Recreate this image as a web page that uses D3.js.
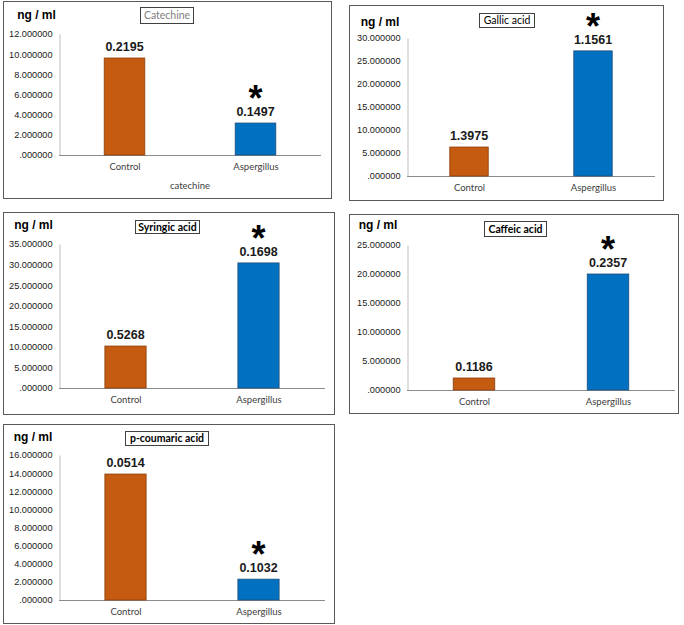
<!DOCTYPE html>
<html>
<head>
<meta charset="utf-8">
<script src="https://cdn.jsdelivr.net/npm/d3@7"></script>
<style>
  html, body { margin: 0; padding: 0; background: #fff; }
  svg { display: block; }
</style>
</head>
<body>
<svg id="chart" width="684" height="625"></svg>
<script>
// ---------- data ----------
const compounds = ["Catechine", "Gallic acid", "Syringic acid", "Caffeic acid", "p-coumaric acid"];
const groups = ["Control", "Aspergillus"];
const controlValues = [9.62, 6.3, 10.2, 2.07, 13.9];
const aspergillusValues = [3.17, 27.2, 30.4, 20.0, 2.3];
const controlLabels = ["0.2195", "1.3975", "0.5268", "0.1186", "0.0514"];
const aspergillusLabels = ["0.1497", "1.1561", "0.1698", "0.2357", "0.1032"];
const yMax = [12, 30, 35, 25, 16];
const yStep = [2, 5, 5, 5, 2];
const aspergillusSignificant = [true, true, true, true, true];
const axisTitles = ["catechine", "", "", "", ""];
const unitLabel = "ng / ml";

// ---------- layout (positions / styles only) ----------
const layout = [
  { box: [3, 1, 331, 198],   plot: { left: 59,  right: 321, top: 34,  bottom: 155 }, unit: [36.5, 19], title: [140, 7, 193, 23],   titleStyle: { fill: "#808080", weight: "normal" } },
  { box: [349, 5, 663, 200], plot: { left: 407, right: 655, top: 38,  bottom: 176 }, unit: [380, 26],  title: [479, 13, 534, 27],  titleStyle: { fill: "#000", weight: "normal" } },
  { box: [3, 212, 334, 414], plot: { left: 59,  right: 325, top: 244, bottom: 388 }, unit: [33.5, 229], title: [135, 220, 199, 233], titleStyle: { fill: "#000", weight: "bold" } },
  { box: [349, 214, 678, 413], plot: { left: 407, right: 675, top: 245, bottom: 390 }, unit: [378, 229], title: [484, 221, 546, 236], titleStyle: { fill: "#000", weight: "bold" } },
  { box: [3, 424, 334, 623], plot: { left: 59,  right: 325, top: 455, bottom: 600 }, unit: [33, 441],  title: [125, 431, 208, 445], titleStyle: { fill: "#000", weight: "bold" } }
];

const colors = { Control: "#C55A11", Aspergillus: "#0070C0" };
const strokes = { Control: "#8a3e0b", Aspergillus: "#1f4e79" };
const tickFont = "'Liberation Sans', Arial, sans-serif";
const labelFont = "Lato, 'Open Sans', sans-serif";

const svg = d3.select("#chart");
const fmt = v => v === 0 ? ".000000" : d3.format(".6f")(v);

compounds.forEach((name, i) => {
  const L = layout[i];
  const g = svg.append("g");
  const [bx0, by0, bx1, by1] = L.box;

  g.append("rect")
    .attr("x", bx0 + 0.5).attr("y", by0 + 0.5)
    .attr("width", bx1 - bx0).attr("height", by1 - by0)
    .attr("fill", "#fff").attr("stroke", "#595959").attr("stroke-width", 1);

  const y = d3.scaleLinear().domain([0, yMax[i]]).range([L.plot.bottom, L.plot.top]);
  const x = d3.scalePoint().domain(groups).range([L.plot.left, L.plot.right]).padding(0.5);
  const barW = x.step() * 0.31;

  const ticks = d3.range(0, yMax[i] + yStep[i] / 2, yStep[i]);

  // y axis
  const yAxis = d3.axisLeft(y).tickValues(ticks).tickFormat(fmt).tickSize(0).tickPadding(7);
  const ya = g.append("g").attr("transform", `translate(${L.plot.left + 0.5},0)`).call(yAxis);
  ya.select(".domain").attr("stroke", "#bfbfbf");
  ya.selectAll("text").attr("font-family", tickFont).attr("font-size", 9.2).attr("fill", "#1a1a1a");

  // x axis
  const xAxis = d3.axisBottom(x).tickSize(0).tickPadding(8);
  const xa = g.append("g").attr("transform", `translate(0,${L.plot.bottom + 0.5})`).call(xAxis);
  xa.select(".domain").attr("stroke", "#8c8c8c").attr("d", `M${L.plot.left},0H${L.plot.right}`);
  xa.selectAll("text").attr("font-family", labelFont).attr("font-size", 9.5).attr("fill", "#404040");

  const vals = { Control: controlValues[i], Aspergillus: aspergillusValues[i] };
  const labs = { Control: controlLabels[i], Aspergillus: aspergillusLabels[i] };

  groups.forEach(gr => {
    const cx = x(gr);
    g.append("rect")
      .attr("x", cx - barW / 2).attr("y", y(vals[gr]))
      .attr("width", barW).attr("height", L.plot.bottom - y(vals[gr]))
      .attr("fill", colors[gr]).attr("stroke", strokes[gr]).attr("stroke-width", 0.8);

    g.append("text")
      .attr("x", cx).attr("y", y(vals[gr]) - 7)
      .attr("text-anchor", "middle")
      .attr("font-family", tickFont).attr("font-weight", "bold").attr("font-size", 12.5)
      .attr("fill", "#1a1a1a")
      .text(labs[gr]);

    if (gr === "Aspergillus" && aspergillusSignificant[i]) {
      g.append("text")
        .attr("x", cx).attr("y", y(vals[gr]) - 7 - 5)
        .attr("text-anchor", "middle")
        .attr("font-family", tickFont).attr("font-weight", "bold").attr("font-size", 36)
        .attr("fill", "#000")
        .text("*");
    }
  });

  // unit label
  g.append("text")
    .attr("x", L.unit[0]).attr("y", L.unit[1])
    .attr("text-anchor", "middle")
    .attr("font-family", tickFont).attr("font-weight", "bold").attr("font-size", 12)
    .attr("fill", "#000")
    .text(unitLabel);

  // title box
  const [tx0, ty0, tx1, ty1] = L.title;
  g.append("rect")
    .attr("x", tx0 + 0.5).attr("y", ty0 + 0.5)
    .attr("width", tx1 - tx0).attr("height", ty1 - ty0)
    .attr("fill", "#fff").attr("stroke", "#404040").attr("stroke-width", 1);
  g.append("text")
    .attr("x", (tx0 + tx1) / 2 + 0.5).attr("y", (ty0 + ty1) / 2 + 0.5)
    .attr("dy", "0.35em")
    .attr("text-anchor", "middle")
    .attr("font-family", labelFont).attr("font-size", 10.5)
    .attr("font-weight", L.titleStyle.weight).attr("fill", L.titleStyle.fill)
    .text(name);

  if (axisTitles[i]) {
    g.append("text")
      .attr("x", (L.plot.left + L.plot.right) / 2).attr("y", L.plot.bottom + 34)
      .attr("text-anchor", "middle")
      .attr("font-family", labelFont).attr("font-size", 9.5).attr("fill", "#404040")
      .text(axisTitles[i]);
  }
});
</script>
</body>
</html>
